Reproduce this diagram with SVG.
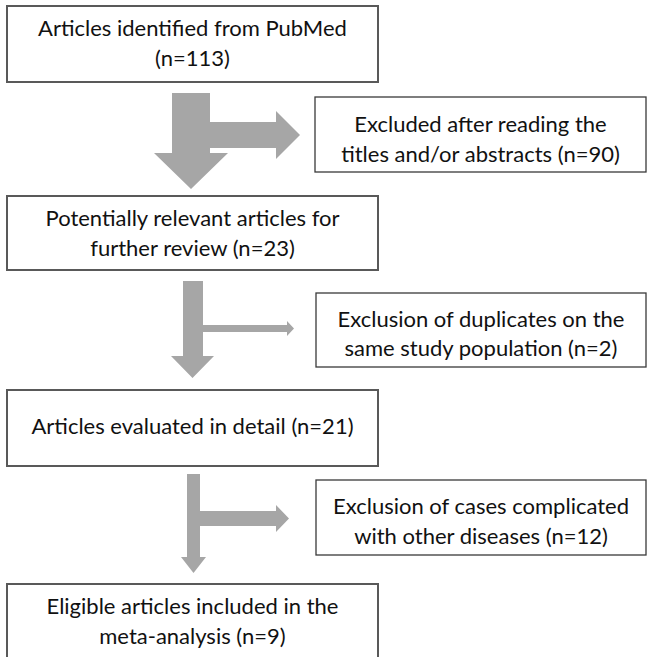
<svg xmlns="http://www.w3.org/2000/svg" width="649" height="657" viewBox="0 0 649 657">
<style>
.main{fill:#fff;stroke:#595959;stroke-width:2}
.side{fill:#fff;stroke:#3a3a3a;stroke-width:1.3}
.t{font-family:Lato,"Liberation Sans",sans-serif;font-size:22px;fill:#111;text-anchor:middle}
.arrow{fill:#a6a6a6;stroke:none}
</style>
<rect width="649" height="657" fill="#fff"/>
<g id="connectors">
<path class="arrow" d="M172,93 L210,93 L210,122 L276,122 L276,111 L300,135 L276,159 L276,148 L210,148 L210,153 L228,153 L191,189 L154,153 L172,153 Z"/>
<path class="arrow" d="M183,281 L203,281 L203,325 L287,325 L287,321 L294,328.5 L287,336 L287,332 L203,332 L203,356 L214,356 L192.5,378 L171,356 L183,356 Z"/>
<path class="arrow" d="M187,474 L200,474 L200,511 L276,511 L276,505 L289,518.5 L276,532 L276,526 L200,526 L200,557 L206,557 L193.5,573 L181,557 L187,557 Z"/>
</g>
<g id="n1">
<rect class="main" x="7" y="6" width="371" height="76"/>
<text class="t" x="192.5" y="36">Articles identified from PubMed</text>
<text class="t" x="192.5" y="66">(n=113)</text>
</g>
<g id="x1">
<rect class="side" x="315" y="97" width="331" height="75"/>
<text class="t" x="480.5" y="132">Excluded after reading the</text>
<text class="t" x="480.5" y="162">titles and/or abstracts (n=90)</text>
</g>
<g id="n2">
<rect class="main" x="7" y="196" width="371" height="74"/>
<text class="t" x="192.5" y="226">Potentially relevant articles for</text>
<text class="t" x="192.5" y="256">further review (n=23)</text>
</g>
<g id="x2">
<rect class="side" x="316" y="293" width="330" height="74"/>
<text class="t" x="481" y="327">Exclusion of duplicates on the</text>
<text class="t" x="481" y="356">same study population (n=2)</text>
</g>
<g id="n3">
<rect class="main" x="7" y="390" width="371" height="76"/>
<text class="t" x="192.5" y="434">Articles evaluated in detail (n=21)</text>
</g>
<g id="x3">
<rect class="side" x="316" y="480" width="330" height="75"/>
<text class="t" x="481" y="514">Exclusion of cases complicated</text>
<text class="t" x="481" y="544">with other diseases (n=12)</text>
</g>
<g id="n4">
<rect class="main" x="7" y="584" width="371" height="90"/>
<text class="t" x="192.5" y="614">Eligible articles included in the</text>
<text class="t" x="192.5" y="644">meta-analysis (n=9)</text>
</g>
</svg>
